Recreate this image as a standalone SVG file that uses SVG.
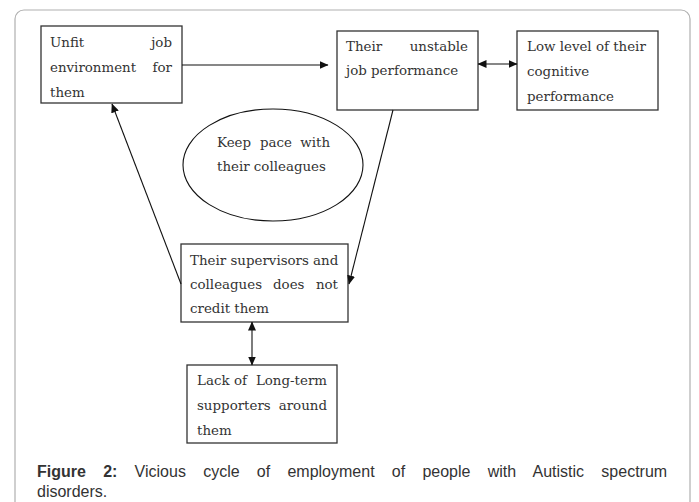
<svg xmlns="http://www.w3.org/2000/svg" width="699" height="502" viewBox="0 0 699 502">
<style>
.box{fill:#fff;stroke:#333;stroke-width:1.3}
.t{font-family:"DejaVu Serif","Liberation Serif",serif;font-size:13.4px;fill:#333}
.e{text-anchor:end}
.c{stroke:#111;stroke-width:1.1;fill:none}
.cap{font-family:"Liberation Sans",Arial,sans-serif;font-size:16px;fill:#333}
</style>
<defs>
<marker id="ah" markerWidth="9" markerHeight="8" refX="8.5" refY="4" orient="auto-start-reverse" markerUnits="userSpaceOnUse">
<path d="M0,0 L9,4 L0,8 z" fill="#111"/>
</marker>
</defs>
<rect x="15" y="10" width="675" height="520" rx="9" fill="#fff" stroke="#b0b0b0" stroke-width="1.2"/>

<g id="unfit">
<rect class="box" x="41" y="26" width="141" height="77"/>
<text class="t"><tspan x="50" y="47">Unfit</tspan><tspan class="e" x="172" y="47">job</tspan><tspan x="50" y="72">environment</tspan><tspan class="e" x="172" y="72">for</tspan><tspan x="50" y="97">them</tspan></text>
</g>

<g id="unstable">
<rect class="box" x="337" y="31" width="141" height="79"/>
<text class="t"><tspan x="346" y="51">Their</tspan><tspan class="e" x="468" y="51">unstable</tspan><tspan x="346" y="75">job performance</tspan></text>
</g>

<g id="cognitive">
<rect class="box" x="517" y="31" width="141" height="79"/>
<text class="t"><tspan x="527" y="51">Low level of their</tspan><tspan x="527" y="76">cognitive</tspan><tspan x="527" y="101">performance</tspan></text>
</g>

<g id="keeppace">
<ellipse cx="273" cy="165" rx="90" ry="56" fill="#fff" stroke="#111" stroke-width="1.1"/>
<text class="t"><tspan x="217" y="147">Keep</tspan><tspan x="260" y="147">pace</tspan><tspan class="e" x="330" y="147">with</tspan><tspan x="217" y="171">their colleagues</tspan></text>
</g>

<g id="supervisors">
<rect class="box" x="181" y="244" width="167" height="78"/>
<text class="t"><tspan x="190" y="265">Their supervisors and</tspan><tspan x="190" y="289">colleagues</tspan><tspan x="273" y="289">does</tspan><tspan class="e" x="338" y="289">not</tspan><tspan x="190" y="313">credit them</tspan></text>
</g>

<g id="supporters">
<rect class="box" x="187" y="365" width="150" height="78"/>
<text class="t"><tspan x="197" y="385">Lack</tspan><tspan x="234" y="385">of</tspan><tspan class="e" x="327" y="385">Long-term</tspan><tspan x="197" y="410">supporters</tspan><tspan class="e" x="327" y="410">around</tspan><tspan x="197" y="435">them</tspan></text>
</g>

<g id="connectors">
<line class="c" x1="182" y1="65" x2="328" y2="65" marker-end="url(#ah)"/>
<line class="c" x1="478" y1="64" x2="517" y2="64" marker-start="url(#ah)" marker-end="url(#ah)"/>
<line class="c" x1="393" y1="110" x2="349" y2="284" marker-end="url(#ah)"/>
<line class="c" x1="181" y1="284" x2="112" y2="104" marker-end="url(#ah)"/>
<line class="c" x1="252" y1="322" x2="252" y2="365" marker-start="url(#ah)" marker-end="url(#ah)"/>
</g>

<text class="cap" x="37" y="477" word-spacing="12.8"><tspan font-weight="bold">Figure 2:</tspan> Vicious cycle of employment of people with Autistic spectrum</text>
<text class="cap" x="37" y="497">disorders.</text>
</svg>
